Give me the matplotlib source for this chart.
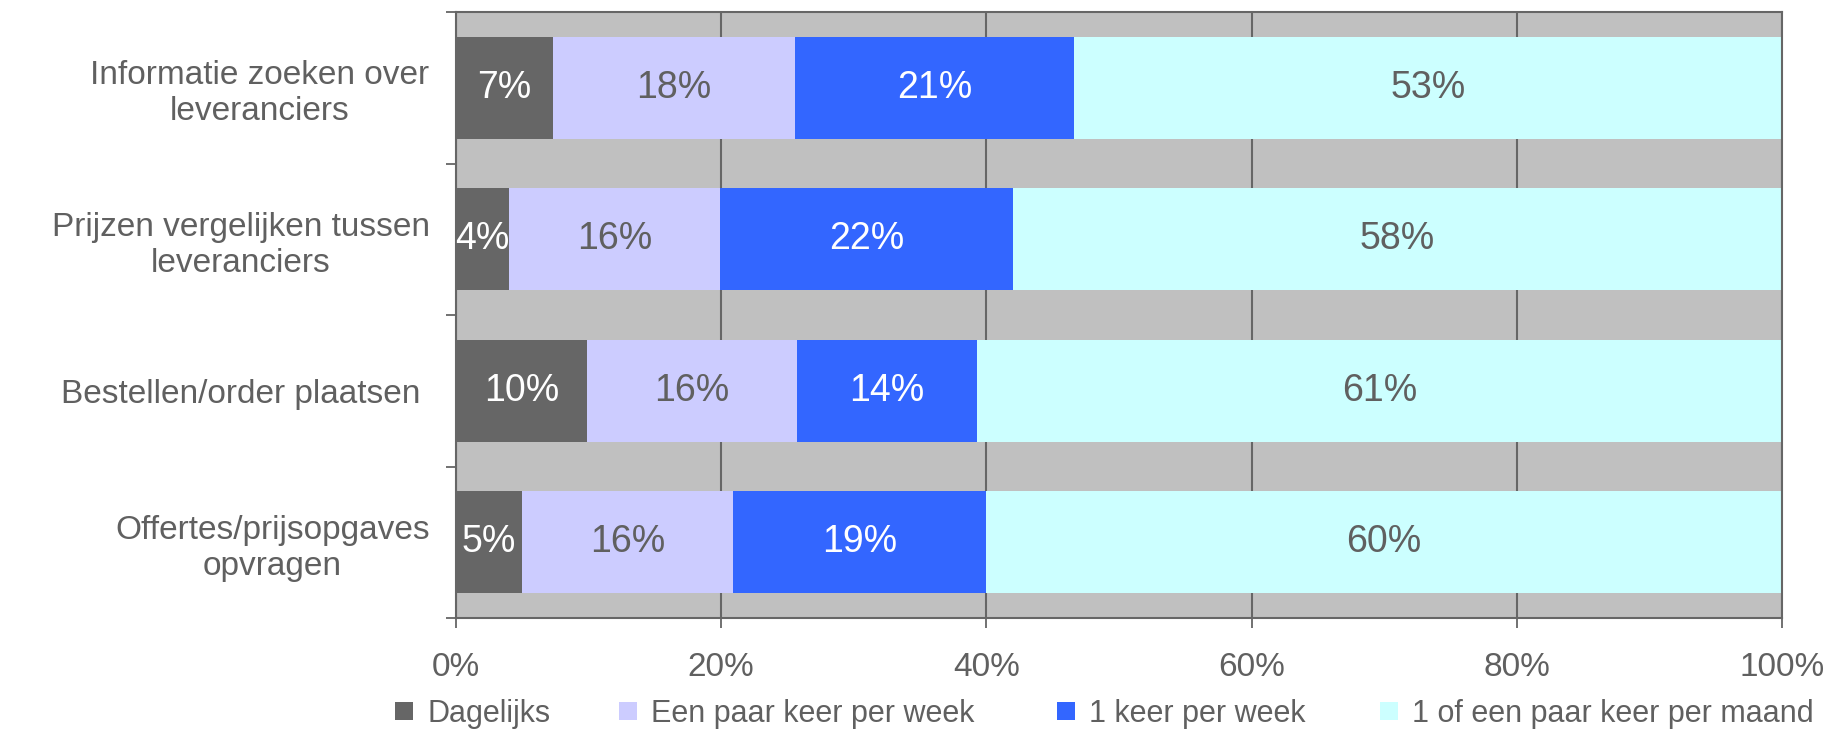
import matplotlib
matplotlib.use("Agg")
import matplotlib.pyplot as plt
import numpy as np

plt.rcParams['font.family'] = ['Liberation Sans', 'DejaVu Sans']

# Activities (top to bottom)
categories = [
    "Informatie zoeken over\nleveranciers",
    "Prijzen vergelijken tussen\nleveranciers",
    "Bestellen/order plaatsen ",
    "Offertes/prijsopgaves\nopvragen",
]

# Share of respondents per frequency (percent)
dagelijks = [7.3, 4.0, 9.9, 5.0]
paar_keer_per_week = [18.3, 15.9, 15.8, 15.9]
keer_per_week = [21.0, 22.1, 13.6, 19.1]
per_maand = [53.4, 58.0, 60.7, 60.0]

series_names = ["Dagelijks", "Een paar keer per week", "1 keer per week",
                "1 of een paar keer per maand"]
series_values = [dagelijks, paar_keer_per_week, keer_per_week, per_maand]
series_colors = ["#666666", "#CCCCFF", "#3366FF", "#CCFFFF"]
label_colors = ["white", "#606060", "white", "#606060"]

x_ticks = [0, 20, 40, 60, 80, 100]
x_tick_labels = ["0%", "20%", "40%", "60%", "80%", "100%"]

TEXT = "#606060"
LINE = "#666666"

W, H = 1841, 729
fig = plt.figure(figsize=(W / 100, H / 100), dpi=100)
ax = fig.add_axes([456 / W, 1 - 618 / H, (1782 - 456) / W, (618 - 12) / H])
ax.set_facecolor("#C0C0C0")

y = np.arange(len(categories))
left = np.zeros(len(categories))
handles = []
for name, vals, col, lcol in zip(series_names, series_values, series_colors, label_colors):
    bars = ax.barh(y, vals, left=left, height=0.673, color=col, edgecolor="none",
                   label=name, zorder=2)
    ax.bar_label(bars, labels=[f"{v:.0f}%" for v in vals], label_type="center",
                 color=lcol, fontsize=27, zorder=3)
    handles.append(bars)
    left = left + np.array(vals)

ax.set_xlim(0, 100)
ax.set_ylim(len(categories) - 0.5, -0.5)

ax.set_xticks(x_ticks)
ax.set_xticklabels(x_tick_labels, fontsize=24, color=TEXT)
ax.tick_params(axis="x", direction="out", length=7.5, width=1.3, color=LINE, pad=17)

ax.set_yticks(y)
ax.set_yticklabels(categories, fontsize=24, color=TEXT)
for t in ax.get_yticklabels():
    t.set_multialignment("center")
    t.set_linespacing(1.2)
ax.tick_params(axis="y", which="major", length=0, pad=19)
ax.set_yticks(np.arange(len(categories) + 1) - 0.5, minor=True)
ax.tick_params(axis="y", which="minor", direction="out", length=7.5, width=1.3, color=LINE)

ax.xaxis.grid(True, color=LINE, linewidth=1.5, zorder=1)
ax.set_axisbelow(True)
for s in ax.spines.values():
    s.set_color(LINE)
    s.set_linewidth(1.5)

# Legend entries laid out along the bottom edge
legend_x = [395, 619, 1057, 1380]
for h, name, lx in zip(handles, series_names, legend_x):
    fig.legend(handles=[h], labels=[name], loc="center left",
               bbox_to_anchor=(lx / W, 1 - 714 / H), frameon=False,
               fontsize=22, labelcolor=TEXT, borderpad=0, borderaxespad=0,
               handlelength=0.6, handleheight=0.5, handletextpad=0.45)

fig.savefig("out.png", dpi=100)
